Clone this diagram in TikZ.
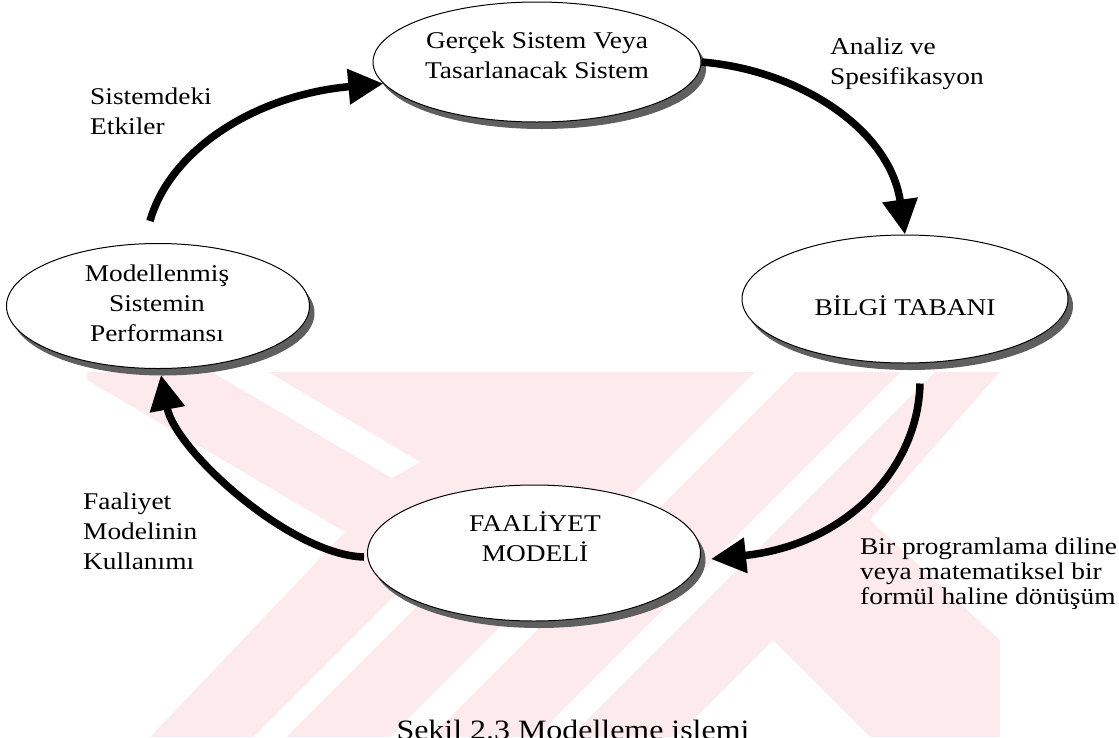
\documentclass[tikz,border=0pt]{standalone}
\usepackage{fontspec}
\setmainfont{Liberation Serif}[FakeStretch=1.14]
\usetikzlibrary{arrows.meta,shapes.geometric,shadows,calc}
\definecolor{wmpink}{RGB}{253,234,237}
\definecolor{shade}{RGB}{95,95,95}
\begin{document}
\begin{tikzpicture}[x=1pt,y=-1pt,
  stage/.style={ellipse, draw=black, line width=1pt, fill=white, inner sep=0pt,
    drop shadow={shadow xshift=5pt, shadow yshift=-7pt, fill=shade, opacity=1}},
  txt/.style={font=\fontsize{24}{30}\selectfont, align=center, inner sep=0pt},
  lbl/.style={font=\fontsize{24}{30}\selectfont, align=left, inner sep=0pt, anchor=north west},
  flow/.style={line width=7.5pt, -{Triangle[length=35pt,width=34pt]}},
  gap/.style={fill=white}
]
\useasboundingbox (0,0) rectangle (1119,737);

% faint striped background mark
\begin{scope}
  \clip (87,372) rectangle (1000,737);
  \fill[wmpink] (87,372) rectangle (1000,737);
  % left opening
  \fill[gap] (87,380) -- (345,532) -- (150,737) -- (87,737) -- cycle;
  % stripe in the upper left arm
  \fill[gap] (212,372) -- (268,372) -- (420,462) -- (392,478) -- cycle;
  % rising stripes of the lower arm
  \fill[gap] (253,737) -- (286,737) -- (470,553) -- (437,553) -- cycle;
  \fill[gap] (390,737) -- (430,737) -- (795,372) -- (755,372) -- cycle;
  \fill[gap] (536,737) -- (570,737) -- (935,372) -- (901,372) -- cycle;
  % opening at the bottom
  \fill[gap] (773,640) -- (676,737) -- (870,737) -- cycle;
  % right opening
  \fill[gap] (1000,372) -- (1000,640) -- (870,520) -- cycle;
\end{scope}

% stages
\node[stage, minimum width=328pt, minimum height=120pt] (e1) at (537,62) {};
\node[stage, minimum width=326pt, minimum height=128pt] (e2) at (905,299) {};
\node[stage, minimum width=303pt, minimum height=125pt] (e3) at (158,306) {};
\node[stage, minimum width=333pt, minimum height=136pt] (e4) at (534,553) {};

\node[txt] (t1) at (537,55) {Gerçek Sistem Veya\\Tasarlanacak Sistem};
\node[txt] (t2) at (905,306) {BİLGİ TABANI};
\node[txt] (t3) at (157,303) {Modellenmiş\\Sistemin\\Performansı};
\node[txt] (t4) at (535,537) {FAALİYET\\MODELİ};

% free ends of the flows
\coordinate (s1) at ($(e3.north)+(-8,-22)$);
\coordinate (s3) at ($(e2.south)+(15,20)$);
\coordinate (s4) at ($(e4.west)+(-3,4)$);
\coordinate (f3) at ($(e4.east)+(10,6)$);

% flows
\draw[flow] (s1) .. controls (170,150) and (255,95) .. (e1.188);
\draw[flow] (e1.east) .. controls (800,70) and (890,130) .. (e2.north);
\draw[flow] (s3) .. controls (918,470) and (845,545) .. (f3);
\draw[flow] (s4) .. controls (290,555) and (175,450) .. ($(e3.south)+(3,6)$);

% labels
\node[lbl] (l1) at (90,88) {Sistemdeki\\Etkiler};
\node[lbl] (l2) at (830,38) {Analiz ve\\Spesifikasyon};
\node[lbl] (l3) at (83,493) {Faaliyet\\Modelinin\\Kullanımı};
\node[lbl, font=\fontsize{24}{25}\selectfont] (l4) at (860,538)
  {Bir programlama diline\\veya matematiksel bir\\formül haline dönüşüm};

% caption
\node[font=\fontsize{28}{32}\selectfont, anchor=base, inner sep=0pt] (cap) at (573,739)
  {Sekil 2.3 Modelleme islemi};
\end{tikzpicture}
\end{document}
